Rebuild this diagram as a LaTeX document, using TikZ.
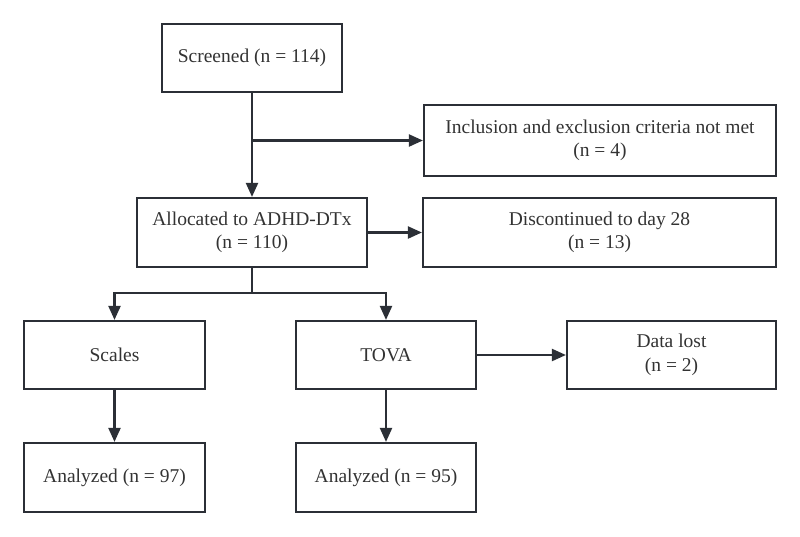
\documentclass[tikz,border=0pt]{standalone}
\usepackage{fontspec}
\setmainfont{Liberation Serif}
\usetikzlibrary{arrows.meta}
\definecolor{boxline}{HTML}{2B2F36}
\definecolor{txt}{HTML}{333333}
\begin{document}
\begin{tikzpicture}[x=1pt,y=-1pt,
  box/.style={draw=boxline,line width=2.2pt,fill=white,inner sep=0pt,align=center,
    text=txt,font=\fontsize{19.5}{23.5}\selectfont},
  conn/.style={draw=boxline,line width=2.2pt},
  arr/.style={conn,-{Triangle[length=14pt,width=12pt]}}]
\useasboundingbox (0,0) rectangle (800,536);
\node[box,minimum width=180pt,minimum height=68pt] (scr) at (252,58) {Screened (n = 114)};
\node[box,minimum width=352pt,minimum height=71pt] (inc) at (600,140.5) {Inclusion and exclusion criteria not met\\(n = 4)};
\node[box,minimum width=230pt,minimum height=69pt] (alloc) at (252,232.5) {Allocated to ADHD-DTx\\(n = 110)};
\node[box,minimum width=353pt,minimum height=69pt] (disc) at (599.5,232.5) {Discontinued to day 28\\(n = 13)};
\node[box,minimum width=181pt,minimum height=68pt] (scales) at (114.5,355) {Scales};
\node[box,minimum width=180pt,minimum height=68pt] (tova) at (386,355) {TOVA};
\node[box,minimum width=209pt,minimum height=68pt] (lost) at (671.5,355) {Data lost\\(n = 2)};
\node[box,minimum width=181pt,minimum height=69pt] (an97) at (114.5,477.5) {Analyzed (n = 97)};
\node[box,minimum width=180pt,minimum height=69pt] (an95) at (386,477.5) {Analyzed (n = 95)};
\coordinate (split) at (252,293);
\draw[arr] (scr.south) -- (alloc.north);
\draw[arr] (scr.south |- inc.west) -- (inc.west);
\draw[arr] (alloc.east) -- (disc.west);
\draw[conn] (alloc.south) -- (split);
\draw[arr] (split) -| (scales.north);
\draw[arr] (split) -| (tova.north);
\draw[arr] (tova.east) -- (lost.west);
\draw[arr] (scales.south) -- (an97.north);
\draw[arr] (tova.south) -- (an95.north);
\end{tikzpicture}
\end{document}
